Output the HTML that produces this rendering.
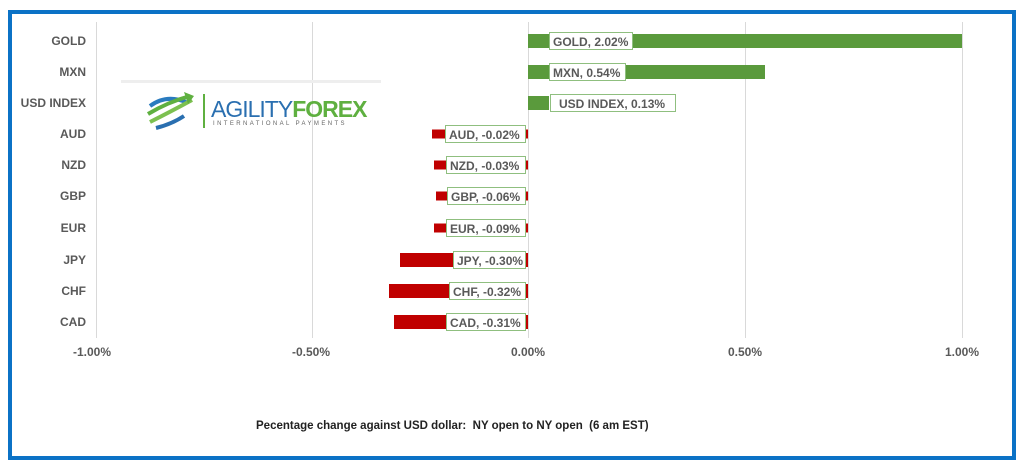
<!DOCTYPE html>
<html><head><style>
body{margin:0;width:1024px;height:467px;background:#fff;position:relative;overflow:hidden;font-family:"Liberation Sans",sans-serif}
.a{position:absolute}
.cat{position:absolute;right:938px;font-weight:bold;font-size:12px;color:#595959;transform:translateY(-50%)}
.g{position:absolute;top:22px;height:316px;width:1px;background:#d9d9d9}
.bar{position:absolute;height:14px;transform:translateY(-50%)}
.lb{position:absolute;height:18px;line-height:18px;border:1px solid #8fbf7f;background:#fff;font-weight:bold;font-size:12px;color:#595959;padding:0 3px;transform:translateY(-50%);white-space:nowrap;box-sizing:border-box}
.tk{position:absolute;top:345px;font-weight:bold;font-size:12px;color:#595959;transform:translateX(-50%)}
</style></head><body>
<div class="a" style="left:8px;top:10px;width:1000px;height:442px;border:4px solid #0b72c6"></div>
<div class="g" style="left:96px"></div><div class="g" style="left:312px"></div><div class="g" style="left:528px"></div><div class="g" style="left:745px"></div><div class="g" style="left:962px"></div>
<div class="a" style="left:121px;top:80px;width:260px;height:3px;background:#eee"></div>
<svg class="a" style="left:146px;top:88px" width="50" height="44"><g fill="none" stroke-width="4"><path d="M4 18 Q20 6 40 14" stroke="#2a7bbf"/><path d="M2 26 Q22 14 44 8" stroke="#5fb040"/><path d="M4 34 Q24 24 46 12" stroke="#7cc050"/><path d="M10 40 Q26 36 38 28" stroke="#2a6fb0"/></g><path d="M38 4 L48 8 L42 16Z" fill="#5fb040"/></svg>
<div class="a" style="left:203px;top:94px;width:2px;height:34px;background:#5fb040"></div>
<div class="a" style="left:211px;top:96px;font-size:23px;letter-spacing:-1px;color:#2a6fb0">AGILITY<span style="color:#5fb040;font-weight:bold">FOREX</span></div>
<div class="a" style="left:213px;top:121px;font-size:6px;letter-spacing:2.4px;color:#666">INTERNATIONAL PAYMENTS</div>

<div class="cat" style="top:41px">GOLD</div><div class="cat" style="top:72px">MXN</div><div class="cat" style="top:103px">USD INDEX</div><div class="cat" style="top:134px">AUD</div><div class="cat" style="top:165px">NZD</div><div class="cat" style="top:196px">GBP</div><div class="cat" style="top:228px">EUR</div><div class="cat" style="top:260px">JPY</div><div class="cat" style="top:291px">CHF</div><div class="cat" style="top:322px">CAD</div>

<div class="bar" style="top:41px;left:528px;width:434px;background:#5a9a3c"></div>
<div class="bar" style="top:72px;left:528px;width:237px;background:#5a9a3c"></div>
<div class="bar" style="top:103px;left:528px;width:21px;background:#5a9a3c"></div>
<div class="bar" style="top:134px;left:432px;width:96px;background:#c00000;height:9px"></div>
<div class="bar" style="top:165px;left:434px;width:94px;background:#c00000;height:9px"></div>
<div class="bar" style="top:196px;left:436px;width:92px;background:#c00000;height:9px"></div>
<div class="bar" style="top:228px;left:434px;width:94px;background:#c00000;height:9px"></div>
<div class="bar" style="top:260px;left:400px;width:128px;background:#c00000"></div>
<div class="bar" style="top:291px;left:389px;width:139px;background:#c00000"></div>
<div class="bar" style="top:322px;left:394px;width:134px;background:#c00000"></div>

<div class="lb" style="top:41px;left:549px;width:84px">GOLD, 2.02%</div>
<div class="lb" style="top:72px;left:549px;width:77px">MXN, 0.54%</div>
<div class="lb" style="top:103px;left:550px;width:126px;padding-left:8px">USD INDEX, 0.13%</div>
<div class="lb" style="top:134px;left:445px;width:81px">AUD, -0.02%</div>
<div class="lb" style="top:165px;left:446px;width:80px">NZD, -0.03%</div>
<div class="lb" style="top:196px;left:447px;width:79px">GBP, -0.06%</div>
<div class="lb" style="top:228px;left:446px;width:80px">EUR, -0.09%</div>
<div class="lb" style="top:260px;left:453px;width:73px">JPY, -0.30%</div>
<div class="lb" style="top:291px;left:449px;width:77px">CHF, -0.32%</div>
<div class="lb" style="top:322px;left:446px;width:80px">CAD, -0.31%</div>

<div class="tk" style="left:92px">-1.00%</div><div class="tk" style="left:311px">-0.50%</div><div class="tk" style="left:528px">0.00%</div><div class="tk" style="left:745px">0.50%</div><div class="tk" style="left:962px">1.00%</div>
<div class="a" style="left:256px;top:420px;font-size:11.5px;font-weight:bold;color:#222;white-space:pre">Pecentage change against USD dollar:  NY open to NY open  (6 am EST)</div>
</body></html>
